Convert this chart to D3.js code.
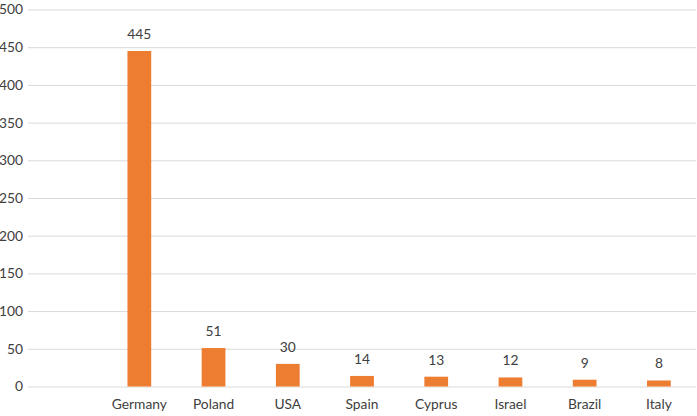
<!DOCTYPE html>
<html><head><meta charset="utf-8">
<script src="https://cdn.jsdelivr.net/npm/d3@7"></script>
<style>body{margin:0;background:#fff;} text{font-family:Lato,"Open Sans",sans-serif;}</style>
</head><body><svg id="c" width="697" height="416"></svg>
<script>
const categories = ["", "Germany", "Poland", "USA", "Spain", "Cyprus", "Israel", "Brazil", "Italy"];
const values = [null, 445, 51, 30, 14, 13, 12, 9, 8];
const yTicks = [0, 50, 100, 150, 200, 250, 300, 350, 400, 450, 500];

const svg = d3.select("#c");
const m = {left: 28, right: 1, top: 9.5, bottom: 29.5};
const W = 697, H = 416;
const x = d3.scaleBand().domain(categories.map((c,i)=>i)).range([m.left, W - m.right]).paddingInner(0.68).paddingOuter(0.34);
const y = d3.scaleLinear().domain([0, 500]).range([H - m.bottom, m.top]);

const g = svg.append("g");
const yAxis = d3.axisLeft(y).tickValues(yTicks).tickSize(-(W - m.right - m.left)).tickPadding(5);
const ya = g.append("g").attr("transform", `translate(${m.left},0)`).call(yAxis);
ya.select(".domain").remove();
ya.selectAll("line").attr("stroke", "#d9d9d9").attr("stroke-width", 1);
ya.selectAll("text").attr("fill", "#404040").style("font-size", "13.8px");

const xAxis = d3.axisBottom(x).tickFormat(i => categories[i]).tickSize(0).tickPadding(13);
const xa = g.append("g").attr("transform", `translate(0,${y(0)})`).call(xAxis);
xa.select(".domain").remove();
xa.selectAll("text").attr("fill", "#404040").style("font-size", "13.8px");

const data = categories.map((c,i)=>({i, v: values[i]})).filter(d => d.v != null);
g.selectAll("rect.bar").data(data).enter().append("rect")
  .attr("x", d => x(d.i)).attr("width", x.bandwidth())
  .attr("y", d => y(d.v)).attr("height", d => y(0) - y(d.v))
  .attr("fill", "#ed7d31");
g.selectAll("text.lbl").data(data).enter().append("text")
  .attr("x", d => x(d.i) + x.bandwidth()/2).attr("y", d => y(d.v) - 12)
  .attr("text-anchor", "middle").attr("fill", "#404040").style("font-size", "13.8px")
  .text(d => d.v);
</script></body></html>
